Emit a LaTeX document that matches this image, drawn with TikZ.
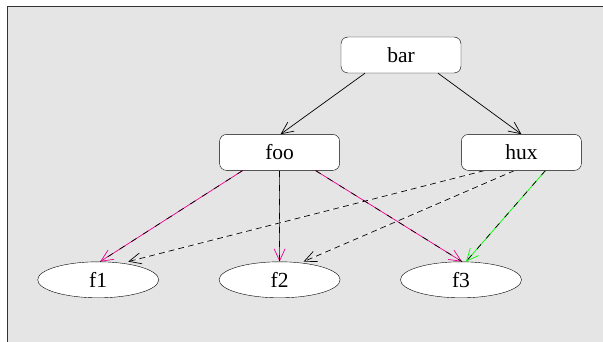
\documentclass[tikz,border=0pt]{standalone}
\usepackage{fontspec}
\setmainfont{Liberation Serif}
\usetikzlibrary{shapes.geometric, arrows.meta, positioning}

\begin{document}
\begin{tikzpicture}[x=1pt, y=-1pt, font=\fontsize{21.5}{24}\selectfont,
    box/.style={draw, fill=white, rounded corners=7pt, minimum width=120pt, minimum height=36pt, inner sep=0pt},
    leaf/.style={draw, fill=white, ellipse, minimum width=121pt, minimum height=36pt, inner sep=0pt},
    link/.style={line width=0.7pt, -{Straight Barb[length=12pt,width=11pt]}},
    mixed/.style={link, draw=#1, postaction={draw=black, -, dash pattern=on 6pt off 8pt}},
    faint/.style={link, draw=white, -{Straight Barb[length=12pt,width=11pt,color=black]},
      postaction={draw=black, -, dash pattern=on 6pt off 4pt}}]
    \useasboundingbox (0,0) rectangle (603,342);
    \draw[fill=black!10, draw=black!80, line width=0.8pt] (7.5,6.5) rectangle (620,360);

    \node[box] (bar) at (401,55) {bar};
    \node[box, below left=61pt and 1pt of bar] (foo) {foo};
    \node[box, below right=61pt and 0pt of bar] (hux) {hux};
    \node[leaf, below=91pt of foo] (f2) {f2};
    \node[leaf, left=60pt of f2] (f1) {f1};
    \node[leaf, right=60pt of f2] (f3) {f3};

    \draw[link] ([xshift=-36pt]bar.south) -- ([xshift=1pt]foo.north);
    \draw[link] ([xshift=37pt]bar.south) -- (hux.north);
    \draw[faint] ([xshift=-37pt]hux.south) -- ([xshift=30pt]f1.north);
    \draw[faint] ([xshift=-7pt]hux.south) -- ([xshift=24pt]f2.north);
    \draw[mixed=magenta] ([xshift=-37pt]foo.south) -- ([xshift=2pt]f1.north);
    \draw[mixed=magenta] (foo.south) -- (f2.north);
    \draw[mixed=magenta] ([xshift=36pt]foo.south) -- ([xshift=1pt]f3.north);
    \draw[mixed=green] ([xshift=24pt]hux.south) -- ([xshift=5pt]f3.north);
\end{tikzpicture}
\end{document}
